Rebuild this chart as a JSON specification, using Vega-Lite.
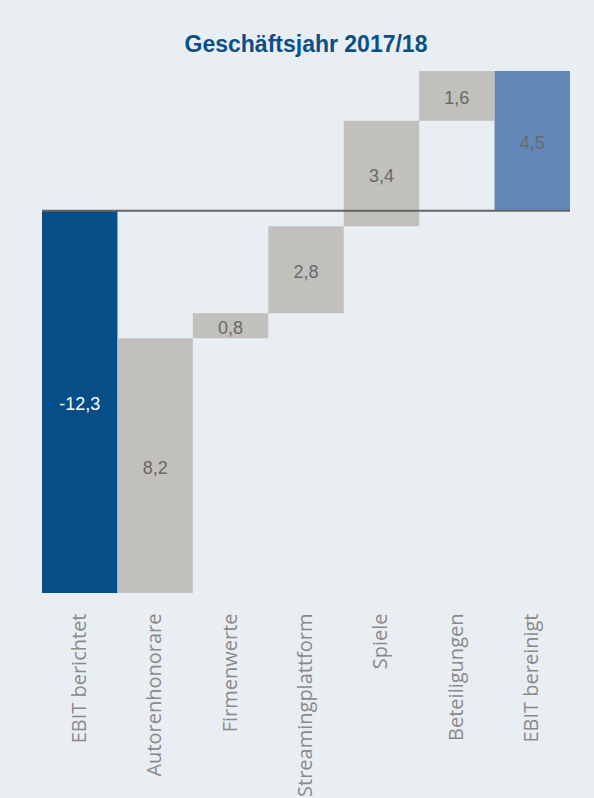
{
  "$schema": "https://vega.github.io/schema/vega-lite/v6.json",
  "autosize": "none",
  "width": 528,
  "height": 522,
  "padding": {"left": 42, "top": 71, "right": 24, "bottom": 205},
  "background": "#e9eef3",
  "title": {
    "text": "Geschäftsjahr 2017/18",
    "font": "Liberation Sans Narrow, Liberation Sans",
    "fontSize": 23,
    "fontWeight": "bold",
    "color": "#0b4f8a",
    "anchor": "middle",
    "offset": 14
  },
  "datasets": {
    "steps": [
      {"cat": "EBIT berichtet", "start": 0, "end": -12.3, "label": "-12,3", "kind": "total"},
      {"cat": "Autorenhonorare", "start": -12.3, "end": -4.1, "label": "8,2", "kind": "step"},
      {"cat": "Firmenwerte", "start": -4.1, "end": -3.3, "label": "0,8", "kind": "step"},
      {"cat": "Streamingplattform", "start": -3.3, "end": -0.5, "label": "2,8", "kind": "step"},
      {"cat": "Spiele", "start": -0.5, "end": 2.9, "label": "3,4", "kind": "step"},
      {"cat": "Beteiligungen", "start": 2.9, "end": 4.5, "label": "1,6", "kind": "step"},
      {"cat": "EBIT bereinigt", "start": 0, "end": 4.5, "label": "4,5", "kind": "result"}
    ],
    "zero": [{"v": 0}]
  },
  "config": {"view": {"stroke": null}},
  "layer": [
    {
      "data": {"name": "steps"},
      "mark": {"type": "bar"},
      "encoding": {
        "x": {
          "field": "cat",
          "type": "nominal",
          "sort": null,
          "scale": {"paddingInner": 0, "paddingOuter": 0},
          "axis": {
            "title": null,
            "domain": false,
            "ticks": false,
            "labelAngle": -90,
            "labelAlign": "right",
            "labelBaseline": "middle",
            "labelPadding": 20,
            "labelFont": "Open Sans",
            "labelFontSize": 20,
            "labelColor": "#8a8a8a",
            "labelLimit": 400
          }
        },
        "y": {"field": "start", "type": "quantitative", "scale": {"domain": [-12.3, 4.5], "nice": false, "zero": false}, "axis": null},
        "y2": {"field": "end"},
        "color": {
          "field": "kind",
          "type": "nominal",
          "scale": {"domain": ["total", "step", "result"], "range": ["#064e87", "#c1c0bd", "#6287b8"]},
          "legend": null
        }
      }
    },
    {
      "data": {"name": "steps"},
      "transform": [{"calculate": "(datum.start + datum.end) / 2", "as": "mid"}],
      "mark": {"type": "text", "font": "Liberation Sans", "fontSize": 18, "baseline": "middle", "dy": 3},
      "encoding": {
        "x": {"field": "cat", "type": "nominal", "sort": null},
        "y": {"field": "mid", "type": "quantitative"},
        "text": {"field": "label"},
        "color": {
          "condition": {"test": "datum.kind === 'total'", "value": "#ffffff"},
          "value": "#696969"
        }
      }
    },
    {
      "data": {"name": "zero"},
      "mark": {"type": "rule", "color": "#646464", "strokeWidth": 2},
      "encoding": {"y": {"field": "v", "type": "quantitative"}}
    }
  ]
}
